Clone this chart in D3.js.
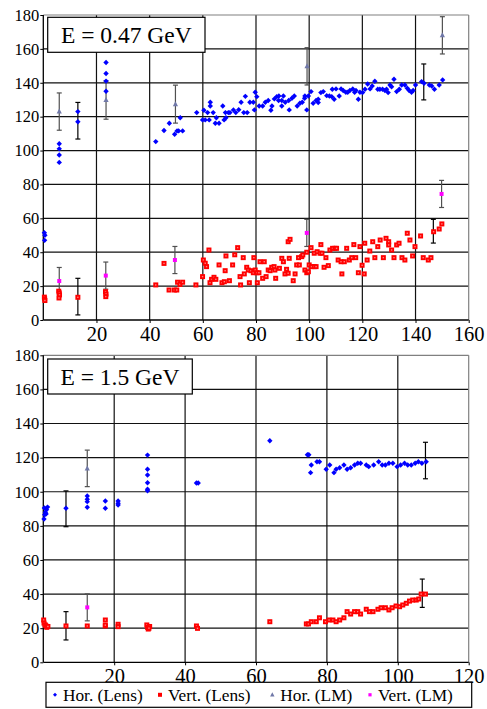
<!DOCTYPE html>
<html>
<head>
<meta charset="utf-8">
<script src="https://cdn.jsdelivr.net/npm/d3@7"></script>
<style>
  html, body { margin: 0; padding: 0; background: #fff; }
  svg { display: block; }
  svg text { font-family: "Liberation Serif", "Times New Roman", Times, "DejaVu Serif", serif !important; fill: #000; }
</style>
</head>
<body>
<svg id="chart" width="487" height="709"></svg>
<script>
// ---- E = 0.47 GeV panel ----
const topXTicks = [20, 40, 60, 80, 100, 120, 140, 160];
const topYTicks = [0, 20, 40, 60, 80, 100, 120, 140, 160, 180];
const topTitle = "E = 0.47 GeV";

const topHorLens = [
  [0.4,51.5],[0.6,50],[0.5,47],
  [6,104],[6,101],[6,97.4],[6,93],
  [13,123],[13,117],
  [23.6,152],[23.6,145.5],[23.6,141],[23.6,135],
  [42.3,105.3],[45.4,111.8],[47.4,116.1],[49.4,109.6],[50.3,111.6],[50.9,111.6],[51.5,119.4],[52.4,111.6],
  [57.7,122.4],[59.9,118.1],[60.4,123.8],[60.9,118.1],[61.8,122.4],[62.4,118.1],[62.8,126.3],[62.8,128.5],
  [63.9,122.4],[64.7,116.1],[65.1,119.4],[66.1,116.1],[67.5,126.3],[68,118.1],[68.5,122.4],[68.7,119.4],
  [69.6,122.4],[70.2,122.4],[71.5,124],[72.4,122.4],[73.5,124.1],[74.4,128.5],[75.4,122.4],[76,132],
  [76.7,122.4],[77.7,128.5],[79,128.5],[79.4,124],[79.7,134.4],[80.3,131.8],[81.2,126.3],[82.5,126.3],
  [83.5,128.5],[84.6,129.5],[85.6,123.8],[86,126.3],[86.9,130.5],[87.8,131.8],[88.5,129.5],[88.6,132.2],
  [89.7,129.5],[89.7,126.3],[90.3,132.2],[91,128.5],[92.3,129.5],[92.5,124],[93.5,130.9],[94.4,132.2],
  [95.5,126.3],[96.5,127.9],[97.4,128.5],[98.3,130.9],[98.4,132.2],[99.1,124],[99.7,132.2],[100.7,134.8],
  [101.5,127.9],[102.6,129.5],[103.4,130.3],[103.4,128.3],[104.4,134.2],[105.3,134.8],[106.6,132.4],
  [107.6,132.2],[108.5,131.8],[108.7,136.2],[109.4,130.3],[110.1,136.4],[111.3,132.2],[112,136.4],
  [112.8,135.4],[113.8,134.4],[114.5,134.4],[115.3,135.4],[116.4,136.4],[117.1,134.4],[117.6,135.4],
  [118.5,130.3],[119.1,134.4],[120.1,134.2],[121,136.2],[122,139.3],[122.9,136.4],[123.7,138.1],
  [124.7,140.9],[125.8,136.2],[126.6,136.2],[127.6,136.2],[128.5,135.4],[129.1,136.2],[129.7,134.2],
  [130.4,138.7],[131,137.7],[131.9,142.1],[132.9,134.8],[133.9,136.2],[134.8,138.7],[136,138.7],
  [136.9,136.8],[137.6,135.4],[138.5,134.4],[139.1,135.4],[140,138.7],[142.3,140.7],[143.2,139.7],
  [145.2,138.7],[146.1,138.1],[147.1,136.2],[148.9,138.7],[150.2,141.7]
];

const topVertLens = [
  [0.4,13.5],[0.5,12.5],[0.6,11.5],
  [5.8,17],[6,16],[6.1,14.8],[5.9,13],
  [13,13.4],
  [23.4,16.7],[23.6,15.3],[23.5,13.8],
  [42.3,20.7],[45.4,33.4],[47.3,17.7],[49.3,17.7],[50.2,17.7],[50.5,22.3],[51.4,21],[52.4,22.3],
  [57.4,20.7],[59.9,25.6],[60.2,35.4],[60.9,33.5],[61.4,31.5],[62.3,41.3],[62.7,22],[63.3,24],
  [64.2,25.2],[64.9,24],[66.1,32.5],[67.2,22],[68.1,22.6],[68.4,29.1],[68.7,37.8],[70,23.2],
  [71.2,32.5],[72,38.5],[73.1,42.7],[74,25.6],[74.2,20.7],[75.2,36.8],[75.6,27.2],[76.5,31.1],
  [77.1,29.5],[77.5,22],[78.1,29.1],[79,27.9],[79.2,36.8],[79.7,29.5],[80.3,27.9],[80.5,22],
  [81.1,27.9],[81.5,34.4],[82.5,24.6],[83.1,34.4],[83.8,25.6],[84.6,29.5],[85.3,29.1],[85.9,31.1],
  [86.8,31.5],[87.1,29.5],[87.4,24.6],[88.8,30.5],[89.7,36.4],[90.3,34.4],[90.9,27.2],[91.5,29.9],
  [92.1,27.6],[92.5,36.4],[92.1,46.2],[92.8,47.6],[94,23.2],[94.7,27.2],[95.3,32.5],[96.3,32.5],
  [96,36.8],[97.2,37.4],[97.6,38.4],[98.4,29.5],[99.1,27.9],[99.1,40],[99.7,28.5],[100,32.5],
  [100.7,42.7],[100.9,31.5],[101.9,31.5],[102.6,31.5],[101.9,39.4],[103,40.3],[104.1,39.4],
  [104.8,39.4],[104.4,44.5],[105.6,31.1],[106.3,36.8],[107.2,32.1],[107.8,41.3],[108.8,42.3],
  [109.7,42.3],[110.3,42.3],[110.9,35.4],[112,34.4],[112.3,27.2],[113.2,34.4],[114.1,42.3],
  [115.1,35.4],[116,36.8],[116.8,44.5],[117.5,36.8],[118.5,27.9],[119.1,43.3],[119.9,32.3],
  [120.7,27.2],[120.9,45.3],[121.8,35.4],[122.8,40.7],[123.9,46.2],[124.7,36.8],[125.8,43.3],
  [126.7,47.2],[127.9,36.8],[128.9,48.2],[129.9,46.2],[129.9,44.3],[131,41.3],[131.9,36.8],
  [132.9,44.3],[133.8,45.3],[134.9,36.8],[136,35.4],[136.9,51.2],[137.9,47.2],[138.9,37.8],
  [139.8,43.3],[141.9,49.6],[142.9,36.8],[144.8,35.4],[145.8,36.8],[146.8,52.1],[148.9,53.7],
  [149.9,56.7]
];

// [x, value, error]
const topHorLM = [[6,123,11],[23.6,129.8,11.3],[49.7,127.4,11.2],[99.2,149.7,11],[150.1,168,11]];
const topVertLM = [[6,23,8],[23.5,26.2,8],[49.5,35.4,8],[99.1,51.4,8],[149.8,74.4,8]];
const topLensErr = [[13,117.6,10.8],[143.1,140.5,10.6],[13,13.8,10.8],[146.7,52.4,7]];

// ---- E = 1.5 GeV panel ----
const botXTicks = [20, 40, 60, 80, 100, 120];
const botYTicks = [0, 20, 40, 60, 80, 100, 120, 140, 160, 180];
const botTitle = "E = 1.5 GeV";

const botHorLens = [
  [0.2,84],[0.4,86.5],[0.6,88],[0.9,89.5],[0.3,90.5],[1.2,91],[0.8,87],
  [6.4,90.3],
  [12.4,97.5],[12.4,95.6],[12.4,94.2],[12.4,90.9],
  [17.5,94.6],[17.5,90.3],
  [21.1,94.6],[21.1,93.2],[21.1,92.2],
  [29.4,121.5],[29.4,113.2],[29.4,109.8],[29.4,105.3],[29.4,101.5],[29.4,100.6],
  [43.2,105.1],[43.7,105.1],
  [63.9,129.9],[74.5,121.7],[74.9,121.7],[75.6,115.7],[75.4,111.2],[77.2,117.6],[77.9,117.6],
  [79.8,113.2],[80.8,115.7],[82,111.2],[82.6,113.2],[83.6,114.1],[84.8,115.7],[85.7,113.2],
  [86.7,114.1],[87.8,115.7],[88.7,116.7],[89.5,116.7],[91.1,115.7],[91.8,114.7],[93.2,115.7],
  [94.6,117.6],[95.6,115.7],[96.5,115.7],[97.5,116.7],[98.6,116.7],[99.8,114.7],[100.8,115.7],
  [101.9,116.7],[102.8,115.7],[103.8,115.7],[104.9,116.7],[105.8,117.6],[106.8,116.7],[108,117.6]
];

const botVertLens = [
  [0.1,24.8],[0.2,23],[0.5,22],[0.7,21.5],[1,20.5],[1.3,21],
  [6.4,21.3],[12.4,21.3],[17.5,24.8],[17.5,21.3],[17.5,21.8],[21.1,22.3],[21.1,20.9],
  [29.2,21.9],[29.4,20.5],[29.6,19.5],[30,21],[29.8,20],[43.2,21.3],[43.5,19.9],
  [63.9,23.8],[74.2,22.5],[74.8,22.5],[75.6,23.8],[77,23.8],[77.9,26.1],[79.6,23.8],[80.6,24.8],
  [81.7,24.8],[82.6,23.8],[83.6,24.8],[84.8,26.1],[85.7,29.7],[86.7,28.3],[87.8,29.7],[88.7,29.7],
  [89.5,28.3],[91.1,31.1],[92,29.7],[93,29.7],[94.4,31.1],[95.3,32],[96.5,32],[97.5,30.7],
  [98.4,32],[99.5,33],[100.5,32.6],[101.4,33.6],[102.4,34.6],[103.3,35.9],[104.2,36.5],
  [105.2,36.5],[105.9,37.1],[106.6,40],[107.8,40]
];

const botHorLM = [[12.4,113.7,10.7]];
const botVertLM = [[12.4,32.2,7.9]];
const botLensErr = [[6.4,90,10.5],[107.8,118.3,10.7],[6.4,21.4,8.3],[106.9,40.5,8.3]];

const legendLabels = ["Hor. (Lens)", "Vert. (Lens)", "Hor. (LM)", "Vert. (LM)"];

// ---- drawing ----
const svg = d3.select("#chart");
const BLUE = "#0000ff", RED = "#ff0000", TRI = "#7078a8", PINK = "#ff00ff";
const SERIF = "Liberation Serif, Times New Roman, DejaVu Serif, serif";

function drawPanel(cfg) {
  const x = d3.scaleLinear().domain([0, cfg.xMax]).range([cfg.left, cfg.right]);
  const y = d3.scaleLinear().domain([0, 180]).range([cfg.bottom, cfg.top]);
  const g = svg.append("g");

  // gridlines
  g.selectAll(".hg").data(cfg.yTicks.filter(d => d > 0 && d < 180)).join("line")
    .attr("x1", cfg.left).attr("x2", cfg.right)
    .attr("y1", d => y(d)).attr("y2", d => y(d))
    .attr("stroke", "#111").attr("stroke-width", 1.2);
  g.selectAll(".vg").data(cfg.xTicks.filter(d => d < cfg.xMax)).join("line")
    .attr("y1", cfg.top).attr("y2", cfg.bottom)
    .attr("x1", d => x(d)).attr("x2", d => x(d))
    .attr("stroke", "#111").attr("stroke-width", 1.2);

  // plot frame
  g.append("line").attr("x1", cfg.left).attr("x2", cfg.right).attr("y1", cfg.top).attr("y2", cfg.top)
    .attr("stroke", "#808080").attr("stroke-width", 1.2);
  g.append("line").attr("x1", cfg.right).attr("x2", cfg.right).attr("y1", cfg.top).attr("y2", cfg.bottom)
    .attr("stroke", "#808080").attr("stroke-width", 1.2);

  // axes
  const yAxis = d3.axisLeft(y).tickValues(cfg.yTicks).tickSize(3).tickPadding(1);
  const gy = g.append("g").attr("transform", `translate(${cfg.left},0)`).call(yAxis)
    .attr("font-family", SERIF).attr("font-size", 16.5);
  const xAxis = d3.axisBottom(x).tickValues(cfg.xTicks).tickSize(3).tickPadding(3);
  const gx = g.append("g").attr("transform", `translate(0,${cfg.bottom})`).call(xAxis)
    .attr("font-family", SERIF).attr("font-size", 20.5);
  [gy, gx].forEach(a => {
    a.select(".domain").attr("stroke", "#000").attr("stroke-width", 1.3);
    a.selectAll(".tick line").attr("stroke", "#000");
    a.selectAll("text").attr("fill", "#000");
  });
  gy.select(".domain").attr("d", `M0,${cfg.top}V${cfg.bottom}`);
  gx.select(".domain").attr("d", `M${cfg.left},0H${cfg.right}`);

  // error bars
  function errBars(data, color) {
    const eg = g.append("g").attr("stroke", color).attr("stroke-width", 1.2).attr("fill", "none");
    data.forEach(([xv, v, e]) => {
      const cx = x(xv), y1 = y(v + e), y2 = y(v - e);
      eg.append("line").attr("x1", cx).attr("x2", cx).attr("y1", y1).attr("y2", y2);
      eg.append("line").attr("x1", cx - 2.5).attr("x2", cx + 2.5).attr("y1", y1).attr("y2", y1);
      eg.append("line").attr("x1", cx - 2.5).attr("x2", cx + 2.5).attr("y1", y2).attr("y2", y2);
    });
  }
  errBars(cfg.lensErr, "#000");
  errBars(cfg.horLM, "#505050");
  errBars(cfg.vertLM, "#505050");

  // Hor. (Lens): blue diamonds
  g.append("g").selectAll("path").data(cfg.horLens).join("path")
    .attr("d", d => { const cx = x(d[0]), cy = y(d[1]); return `M${cx},${cy-2.7}L${cx+2.7},${cy}L${cx},${cy+2.7}L${cx-2.7},${cy}Z`; })
    .attr("fill", BLUE);
  // Vert. (Lens): red squares
  const sq = g.append("g").selectAll("g").data(cfg.vertLens).join("g")
    .attr("transform", d => `translate(${x(d[0])},${y(d[1])})`);
  sq.append("rect").attr("x", -2.5).attr("y", -2.5).attr("width", 5).attr("height", 5).attr("fill", RED);
  sq.append("rect").attr("x", -0.7).attr("y", -0.7).attr("width", 1.4).attr("height", 1.4).attr("fill", "#ff8080");
  // Hor. (LM): triangles
  g.append("g").selectAll("path").data(cfg.horLM).join("path")
    .attr("d", d => { const cx = x(d[0]), cy = y(d[1]); return `M${cx},${cy-3}L${cx+2.6},${cy+2}L${cx-2.6},${cy+2}Z`; })
    .attr("fill", TRI);
  // Vert. (LM): magenta dots
  g.append("g").selectAll("rect").data(cfg.vertLM).join("rect")
    .attr("x", d => x(d[0]) - 2).attr("y", d => y(d[1]) - 2).attr("width", 4).attr("height", 4)
    .attr("fill", PINK);

  // title box
  const tb = g.append("g");
  tb.append("rect").attr("x", cfg.box[0]).attr("y", cfg.box[1]).attr("width", cfg.box[2]).attr("height", cfg.box[3])
    .attr("fill", "#fff").attr("stroke", "#000").attr("stroke-width", 1.2);
  tb.append("text").attr("x", cfg.box[0] + cfg.box[2] / 2).attr("y", cfg.box[1] + cfg.box[3] / 2)
    .attr("dy", "0.35em").attr("text-anchor", "middle").attr("font-family", SERIF)
    .attr("font-size", 23.5).text(cfg.title);
}

drawPanel({
  left: 43.3, right: 468.7, top: 15, bottom: 320, xMax: 160,
  xTicks: topXTicks, yTicks: topYTicks, title: topTitle, box: [47.7, 17.3, 157.3, 35],
  horLens: topHorLens, vertLens: topVertLens, horLM: topHorLM, vertLM: topVertLM, lensErr: topLensErr
});
drawPanel({
  left: 43.3, right: 468.7, top: 355.3, bottom: 662.3, xMax: 120,
  xTicks: botXTicks, yTicks: botYTicks, title: botTitle, box: [47.7, 359, 144.6, 35],
  horLens: botHorLens, vertLens: botVertLens, horLM: botHorLM, vertLM: botVertLM, lensErr: botLensErr
});

// legend
const lg = svg.append("g");
lg.append("rect").attr("x", 46).attr("y", 682.3).attr("width", 425.7).attr("height", 25)
  .attr("fill", "#fff").attr("stroke", "#000").attr("stroke-width", 1.2);
const legendX = [55, 160, 272.3, 370];
const ly = 694.8;
legendLabels.forEach((lab, i) => {
  const mx = legendX[i];
  if (i === 0) lg.append("path").attr("d", `M${mx},${ly-2}L${mx+2},${ly}L${mx},${ly+2}L${mx-2},${ly}Z`).attr("fill", BLUE);
  if (i === 1) { lg.append("rect").attr("x", mx - 2).attr("y", ly - 2).attr("width", 4).attr("height", 4).attr("fill", RED); }
  if (i === 2) lg.append("path").attr("d", `M${mx},${ly-2.5}L${mx+2.2},${ly+1.7}L${mx-2.2},${ly+1.7}Z`).attr("fill", TRI);
  if (i === 3) lg.append("rect").attr("x", mx - 1.6).attr("y", ly - 1.6).attr("width", 3.2).attr("height", 3.2).attr("fill", PINK);
  lg.append("text").attr("x", mx + 8).attr("y", ly).attr("dy", "0.35em").attr("font-family", SERIF)
    .attr("font-size", 17.3).text(lab);
});
</script>
</body>
</html>
